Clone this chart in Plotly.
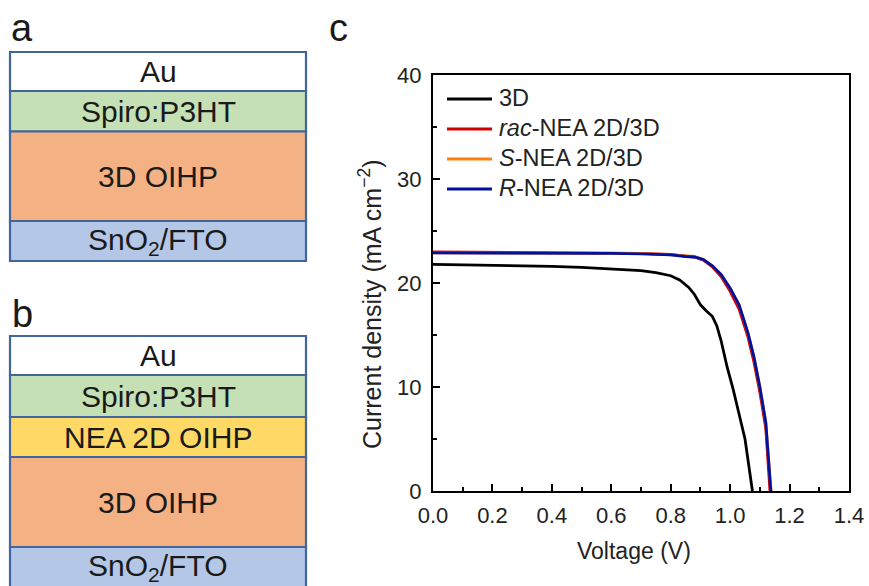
import plotly.graph_objects as go

# ---------------- J-V data (panel c) ----------------
v_3d = [0, 0.1, 0.2, 0.3, 0.4, 0.5, 0.6, 0.7, 0.75, 0.8, 0.83, 0.86, 0.88, 0.9,
        0.92, 0.94, 0.955, 0.97, 0.99, 1.01, 1.03, 1.05, 1.075]
j_3d = [21.8, 21.75, 21.75, 21.65, 21.6, 21.5, 21.35, 21.2, 21.0, 20.7, 20.3, 19.6,
        18.9, 17.9, 17.3, 16.8, 15.9, 14.4, 11.9, 9.8, 7.4, 5.0, 0]

v_rac = [0, 0.2, 0.4, 0.6, 0.7, 0.8, 0.85, 0.88, 0.91, 0.94, 0.97, 1.0, 1.03,
         1.06, 1.08, 1.1, 1.12, 1.134]
j_rac = [23.0, 22.95, 22.95, 22.9, 22.85, 22.75, 22.6, 22.5, 22.2, 21.55, 20.6,
         19.2, 17.5, 14.8, 12.4, 9.5, 6.0, 0]

v_s = [0, 0.2, 0.4, 0.6, 0.7, 0.8, 0.85, 0.88, 0.91, 0.94, 0.97, 1.0, 1.03,
       1.06, 1.08, 1.1, 1.12, 1.138]
j_s = [22.9, 22.9, 22.85, 22.9, 22.85, 22.7, 22.6, 22.55, 22.25, 21.65, 20.8,
       19.5, 17.9, 15.2, 12.9, 10.0, 6.6, 0]

v_r = [0, 0.2, 0.4, 0.6, 0.7, 0.8, 0.85, 0.88, 0.91, 0.94, 0.97, 1.0, 1.03,
       1.06, 1.08, 1.1, 1.12, 1.137]
j_r = [22.9, 22.9, 22.85, 22.85, 22.8, 22.7, 22.55, 22.5, 22.25, 21.65, 20.8,
       19.5, 17.9, 15.2, 12.9, 10.0, 6.6, 0]

series_names = ["3D", "<i>rac</i>-NEA 2D/3D", "<i>S</i>-NEA 2D/3D", "<i>R</i>-NEA 2D/3D"]
series_colors = ["#000000", "#D00000", "#FF7F0E", "#0010A0"]

x_ticks = [0.0, 0.2, 0.4, 0.6, 0.8, 1.0, 1.2, 1.4]
y_ticks = [0, 10, 20, 30, 40]

x_title = "Voltage (V)"
y_title = "Current density (mA cm<sup>\u22122</sup>)"

# ---------------- device stacks (panels a, b) ----------------
stack_a_labels = ["Au", "Spiro:P3HT", "3D OIHP", "SnO<sub>2</sub>/FTO"]
stack_a_colors = ["#FFFFFF", "#C5E0B4", "#F4B183", "#B4C7E7"]
stack_b_labels = ["Au", "Spiro:P3HT", "NEA 2D OIHP", "3D OIHP", "SnO<sub>2</sub>/FTO"]
stack_b_colors = ["#FFFFFF", "#C5E0B4", "#FFD966", "#F4B183", "#B4C7E7"]

# layer boundaries (pixel rows, top to bottom)
stack_a_edges = [52, 91, 131.5, 221, 261]
stack_b_edges = [336, 375, 417, 457, 547, 592]

W, H = 869, 586
# plot area in pixels
PL, PR, PT, PB = 433, 849, 75, 491
FONT = "Arial, 'Liberation Sans', sans-serif"
TXT = "#1a1a1a"


def px(x):
    """pixel column -> paper x (relative to plot area)"""
    return (x - PL) / (PR - PL)


def py(y):
    """pixel row -> paper y (relative to plot area)"""
    return (PB - y) / (PB - PT)


fig = go.Figure()

for v, j, name, col in zip([v_3d, v_rac, v_s, v_r], [j_3d, j_rac, j_s, j_r],
                           series_names, series_colors):
    fig.add_trace(go.Scatter(x=v, y=j, mode="lines", name=name, showlegend=False,
                             line=dict(color=col, width=2.8)))

shapes = []
annotations = []


def add_stack(labels, colors, edges):
    for k, (lab, col) in enumerate(zip(labels, colors)):
        y0, y1 = edges[k], edges[k + 1]
        shapes.append(dict(type="rect", xref="paper", yref="paper",
                           x0=px(10), x1=px(306), y0=py(y1), y1=py(y0),
                           fillcolor=col, line=dict(color="#41669E", width=2.2),
                           layer="below"))
        ymid = (y0 + y1) / 2
        if y1 > H:
            ymid = (y0 + H) / 2 + 1
        annotations.append(dict(text=lab, xref="paper", yref="paper",
                                x=px(158), y=py(ymid), showarrow=False,
                                font=dict(family=FONT, size=30, color=TXT),
                                xanchor="center", yanchor="middle"))


add_stack(stack_a_labels, stack_a_colors, stack_a_edges)
add_stack(stack_b_labels, stack_b_colors, stack_b_edges)

# panel letters
for letter, x, y in [("a", 22, 28), ("b", 22, 314), ("c", 338, 28)]:
    annotations.append(dict(text=letter, xref="paper", yref="paper", x=px(x), y=py(y),
                            showarrow=False, xanchor="center", yanchor="middle",
                            font=dict(family=FONT, size=38, color=TXT)))

# legend: short line sample + label per series
for k, (name, col) in enumerate(zip(series_names, series_colors)):
    row = 98 + 30 * k
    shapes.append(dict(type="line", xref="paper", yref="paper",
                       x0=px(447), x1=px(492), y0=py(row + 1), y1=py(row + 1),
                       line=dict(color=col, width=3)))
    annotations.append(dict(text=name, xref="paper", yref="paper", x=px(497), y=py(row),
                            showarrow=False, xanchor="left", yanchor="middle",
                            font=dict(family=FONT, size=23.5, color="#222222")))

# axis titles
annotations.append(dict(text=x_title, xref="paper", yref="paper", x=px(634), y=py(551),
                        showarrow=False, xanchor="center", yanchor="middle",
                        font=dict(family=FONT, size=23, color="#222222")))
annotations.append(dict(text=y_title, xref="paper", yref="paper", x=px(370), y=py(305),
                        showarrow=False, xanchor="center", yanchor="middle", textangle=-90,
                        font=dict(family=FONT, size=25, color="#222222")))

axis_common = dict(showline=True, linecolor="black", linewidth=2, mirror=True,
                   ticks="inside", ticklen=7, tickwidth=2, tickcolor="black",
                   showgrid=False, zeroline=False,
                   tickfont=dict(family=FONT, size=22, color="#222222"))

fig.update_layout(
    width=W, height=H, autosize=False,
    margin=dict(l=PL, r=W - PR, t=PT, b=H - PB, pad=0, autoexpand=False),
    paper_bgcolor="white", plot_bgcolor="white",
    font=dict(family=FONT, color="#222222"),
    xaxis=dict(range=[0, 1.4], tickvals=x_ticks,
               ticktext=[f"{t:.1f}" for t in x_ticks],
               minor=dict(ticks="inside", ticklen=4, tickwidth=2, dtick=0.1,
                          tickcolor="black"),
               ticklabelstandoff=4, automargin=False,
               **axis_common),
    yaxis=dict(range=[0, 40], tickvals=y_ticks,
               minor=dict(ticks="inside", ticklen=4, tickwidth=2, dtick=5,
                          tickcolor="black"),
               ticklabelstandoff=5, automargin=False,
               **axis_common),
    showlegend=False,
    shapes=shapes,
    annotations=annotations,
)

fig.write_html("out.html")
